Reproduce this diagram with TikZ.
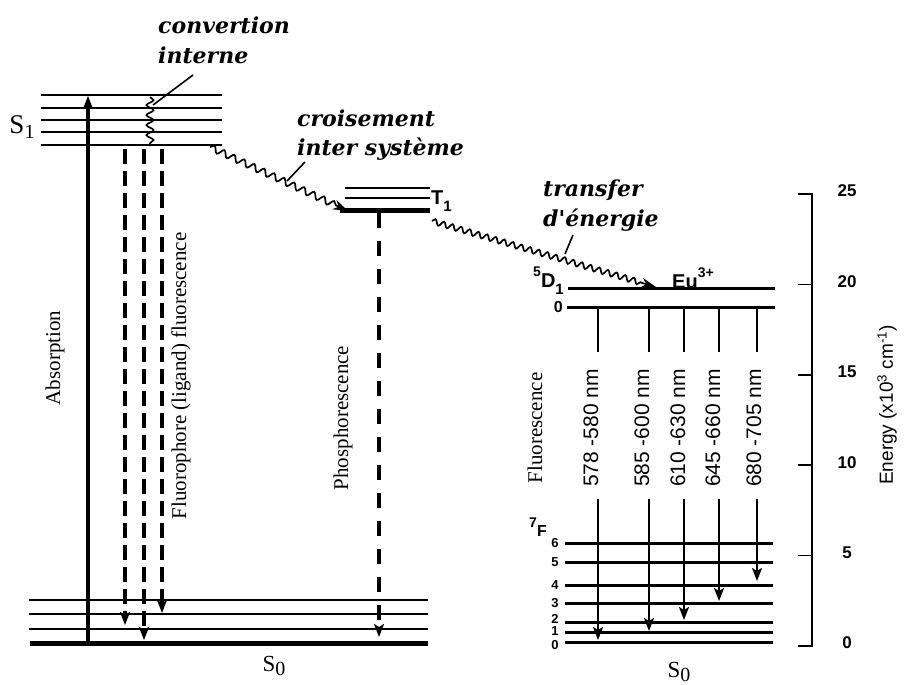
\documentclass[tikz,border=0pt]{standalone}
\usepackage{fontspec}
\setmainfont{Liberation Serif}
\newfontfamily\lsans{Liberation Sans}
\newfontfamily\djs{DejaVu Serif}
\usetikzlibrary{arrows.meta,decorations.pathmorphing}
\newcommand{\mysup}[1]{\raisebox{0.55em}{\fontsize{14}{14}\selectfont #1}}
\newcommand{\mysub}[1]{\raisebox{-0.35em}{\fontsize{15}{15}\selectfont #1}}
\newcommand{\bigsub}[1]{\raisebox{-0.2em}{\fontsize{20}{20}\selectfont #1}}
\begin{document}
\begin{tikzpicture}[x=1pt,y=-1pt,
  lvl/.style={line width=2.6pt},
  thk/.style={line width=5pt},
  eul/.style={line width=3pt},
  dsh/.style={line width=3.4pt, dash pattern=on 15pt off 7pt},
  dshp/.style={line width=3.4pt, dash pattern=on 15pt off 13pt},
  tipd/.style={-{Stealth[length=13pt,width=10pt,inset=3pt]}},
  tipe/.style={-{Stealth[length=15pt,width=10pt]}},
  wav/.style={line width=1.7pt, decorate, decoration={snake, segment length=11pt, amplitude=3.2pt, post length=12pt}},
  itl/.style={font=\djs\bfseries\itshape\fontsize{22}{28}\selectfont, anchor=base west, inner sep=0, align=left},
  rser/.style={font=\fontsize{21}{21}\selectfont, rotate=90, inner sep=0},
  rsan/.style={font=\lsans\fontsize{21}{21}\selectfont, rotate=90, inner sep=0},
  bsan/.style={font=\lsans\bfseries\fontsize{20}{20}\selectfont, inner sep=0},
  lab/.style={font=\lsans\bfseries\fontsize{13}{13}\selectfont, inner sep=0},
  axl/.style={font=\lsans\bfseries\fontsize{17}{17}\selectfont, inner sep=0},
  lead/.style={line width=1.6pt}
]
\useasboundingbox (0,0) rectangle (906,685);
\fill[white] (0,0) rectangle (906,685);

% ---- S1 levels
\foreach \yy in {95,108,120,132,145} \draw[lvl] (41,\yy) -- (222,\yy);
\node[font=\fontsize{27}{27}\selectfont, inner sep=0] (s1) at (22,127) {S\bigsub{1}};

% ---- S0 levels (ligand)
\foreach \yy in {600,614,629} \draw[lvl] (29,\yy) -- (428,\yy);
\draw[thk] (30,643) -- (428,643);
\node[font=\fontsize{23}{23}\selectfont, inner sep=0] (s0a) at (274,666) {S\bigsub{0}};

% ---- T1 levels
\draw[lvl] (345,188) -- (430,188);
\draw[lvl] (345,198) -- (430,198);
\draw[thk] (340,210) -- (430,210);
\node[bsan, anchor=west] (t1) at (431,201) {T\mysub{1}};

% ---- Eu levels
\draw[eul] (568,288) -- (775,288);
\draw[eul] (567,307) -- (775,307);
\node[bsan, anchor=east] (d1) at (564,281) {\mysup{5}D\mysub{1}};
\node[lab, font=\lsans\bfseries\fontsize{16}{16}\selectfont, anchor=east] (d0) at (563,307) {0};
\node[bsan, anchor=west] (eu) at (672,278) {Eu\mysup{3+}};

\foreach \yy/\ny/\nn in {543/543/6,562/562/5,585/585/4,603/603/3,622/619/2,632/631/1,642/645/0} {
  \draw[eul] (565,\yy) -- (773,\yy);
  \node[lab] (f\nn) at (555,\ny) {\nn};
}
\node[lab, font=\lsans\bfseries\fontsize{16}{16}\selectfont] (f7) at (538,527) {\mysup{7}F};

% ---- Energy axis
\draw[line width=2.4pt] (799,194) -- (812,194) -- (812,646) -- (799,646);
\foreach \i/\vv in {0/25,1/20,2/15,3/10,4/5,5/0} {
  \draw[line width=1.6pt] (798,{194+90.4*\i}) -- (812,{194+90.4*\i});
  \node[axl] (ax\vv) at (847,{191+90.4*\i}) {\vv};
}
\node[font=\lsans\fontsize{19}{19}\selectfont, rotate=90, inner sep=0] (energy) at (887,405) {Energy (x10\textsuperscript{3} cm\textsuperscript{-1})};

% ---- coordinates
\coordinate (absB) at (88,645);  \coordinate (absT) at (88,96);
\coordinate (fa1) at (125,149);  \coordinate (fb1) at (125,625);
\coordinate (fa2) at (144,149);  \coordinate (fb2) at (144,640);
\coordinate (fa3) at (162,149);  \coordinate (fb3) at (162,613);
\coordinate (pa) at (379,213);   \coordinate (pb) at (379,637);
\coordinate (icA) at (150,97);   \coordinate (icB) at (150,146);
\coordinate (iscA) at (210,147); \coordinate (iscB) at (348,211);
\coordinate (etA) at (432,221);  \coordinate (etB) at (656,287);

% ---- transitions
\draw[line width=3.2pt, tipd] (absB) -- (absT);
\draw[dsh, tipd] (fa1) -- (fb1);
\draw[dsh, tipd] (fa2) -- (fb2);
\draw[dsh, tipd] (fa3) -- (fb3);
\draw[dshp, tipd] (pa) -- (pb);

\draw[line width=1.7pt, decorate, decoration={snake, segment length=10pt, amplitude=3.5pt}] (icA) -- (icB);
\draw[wav, tipe] (iscA) -- (iscB);
\draw[wav, tipe, decoration={snake, segment length=9pt, amplitude=2.8pt, post length=12pt}] (etA) -- (etB);

% ---- Eu emission lines
\foreach \xx/\ye/\k in {598/640/1,649/631/2,684/620/3,719/601/4,757/581/5} {
  \coordinate (eA\k) at (\xx,307);
  \coordinate (eB\k) at (\xx,352);
  \coordinate (eC\k) at (\xx,499);
  \coordinate (eD\k) at (\xx,\ye);
  \draw[line width=2.2pt] (eA\k) -- (eB\k);
  \draw[line width=2.2pt, tipd] (eC\k) -- (eD\k);
}

% ---- rotated labels
\node[rser] (absl) at (55,358) {Absorption};
\node[rser] (fluol) at (181,376) {Fluorophore (ligand) fluorescence};
\node[rser] (phosl) at (343,418) {Phosphorescence};
\node[rser] (fleul) at (535,428) {Fluorescence};
\node[rsan] (w1) at (591,428) {578 -580 nm};
\node[rsan] (w2) at (642,428) {585 -600 nm};
\node[rsan] (w3) at (678,428) {610 -630 nm};
\node[rsan] (w4) at (713,428) {645 -660 nm};
\node[rsan] (w5) at (754,428) {680 -705 nm};

% ---- italic labels
\node[itl] (conv) at (158,64) {convertion\\[2pt]interne};
\node[itl] (crois) at (297,156) {croisement\\[2pt]inter système};
\node[itl] (trans) at (543,226) {transfer\\[2pt]d'énergie};
\coordinate (l1a) at (193,75);  \coordinate (l1b) at (153,105);
\coordinate (l2a) at (305,162); \coordinate (l2b) at (287,181);
\coordinate (l3a) at (573,235); \coordinate (l3b) at (565,254);
\draw[lead] (l1a) -- (l1b);
\draw[lead] (l2a) -- (l2b);
\draw[lead] (l3a) -- (l3b);

% ---- S0 of Eu
\node[font=\fontsize{23}{23}\selectfont, inner sep=0] (s0b) at (679,672) {S\bigsub{0}};
\end{tikzpicture}
\end{document}
